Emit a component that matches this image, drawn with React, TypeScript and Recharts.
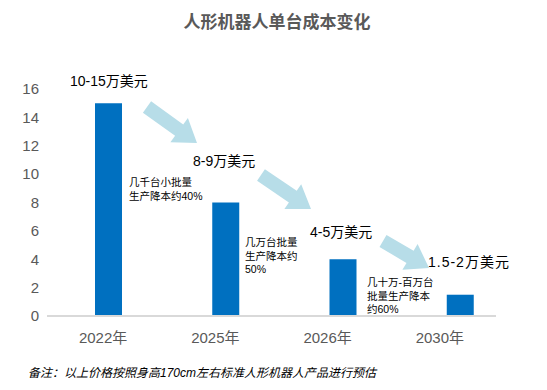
import { Bar, BarChart, XAxis, YAxis } from "recharts"

const years = ["2022年", "2025年", "2026年", "2030年"]
const unitCost = [15, 8, 4, 1.5]
const yTicks = [0, 2, 4, 6, 8, 10, 12, 14, 16]
const priceLabels = ["10-15万美元", "8-9万美元", "4-5万美元", "1.5-2万美元"]
const scaleNotes = [
  ["几千台小批量", "生产降本约40%"],
  ["几万台批量", "生产降本约", "50%"],
  ["几十万-百万台", "批量生产降本", "约60%"],
]
const title = "人形机器人单台成本变化"
const footnote = "备注：以上价格按照身高170cm左右标准人形机器人产品进行预估"

const FONT = "'Liberation Sans', Arial, 'Noto Sans CJK SC', sans-serif"
const GREY = "#595959"

// fat block arrow from start point to tip
function arrowPoints(x1: number, y1: number, x2: number, y2: number) {
  const shaft = 7, head = 15, headLen = 22
  const len = Math.hypot(x2 - x1, y2 - y1)
  const ux = (x2 - x1) / len, uy = (y2 - y1) / len
  const px = -uy, py = ux
  const bx = x2 - ux * headLen, by = y2 - uy * headLen
  const pts = [
    [x1 + px * shaft, y1 + py * shaft],
    [bx + px * shaft, by + py * shaft],
    [bx + px * head, by + py * head],
    [x2, y2],
    [bx - px * head, by - py * head],
    [bx - px * shaft, by - py * shaft],
    [x1 - px * shaft, y1 - py * shaft],
  ]
  return pts.map(p => p.map(v => v.toFixed(1)).join(",")).join(" ")
}

const arrows = [
  [147, 107, 197, 143],
  [261, 175, 311, 209],
  [383, 241, 429, 268],
]
const pricePos = [[70, 86], [193, 166], [310, 237], [428, 267]]
const notePos = [[129, 186], [245, 246], [367, 286]]

export default function App() {
  const data = years.map((y, i) => ({ year: y, cost: unitCost[i] }))

  return (
    <div style={{ position: "absolute", left: 0, top: 0, width: 547, height: 390, background: "#fff", fontFamily: FONT }}>
      <BarChart width={547} height={390} data={data} margin={{ top: 89, right: 28, bottom: 44, left: 0 }}>
        <XAxis xAxisId="bar" dataKey="year" hide height={0} padding={{ left: 3, right: 0 }} />
        <XAxis
          xAxisId="lbl"
          dataKey="year"
          height={30}
          padding={{ left: 0, right: 23 }}
          tickLine={false}
          tickMargin={10}
          axisLine={false}
          tick={{ fill: GREY, fontSize: 15, fontFamily: FONT }}
        />
        <YAxis
          width={47}
          domain={[0, 16]}
          ticks={yTicks}
          axisLine={false}
          tickLine={false}
          tick={{ fill: GREY, fontSize: 15, fontFamily: FONT }}
        />
        <Bar xAxisId="bar" dataKey="cost" fill="#0070C0" barSize={27} isAnimationActive={false} />
      </BarChart>
      <svg width={547} height={390} style={{ position: "absolute", left: 0, top: 0, pointerEvents: "none" }}>
        <line x1={47} x2={496} y1={316} y2={316} stroke="#D9D9D9" strokeWidth={2} />
        <text x={277} y={28} textAnchor="middle" fontSize={17} fontWeight="bold" fill={GREY} fontFamily={FONT}>{title}</text>
        {arrows.map((a, i) => (
          <polygon key={i} points={arrowPoints(a[0], a[1], a[2], a[3])} fill="#B7DDE8" />
        ))}
        {priceLabels.map((t, i) => (
          <text key={i} x={pricePos[i][0]} y={pricePos[i][1]} fontSize={14} fill="#000" fontFamily={FONT}
            letterSpacing={i === 3 ? 1 : 0}>{t}</text>
        ))}
        {scaleNotes.map((lines, i) => (
          <text key={i} fontSize={10.5} fill="#000" fontFamily={FONT}>
            {lines.map((l, j) => (
              <tspan key={j} x={notePos[i][0]} y={notePos[i][1] + j * 13.5}>{l}</tspan>
            ))}
          </text>
        ))}
        <text x={28} y={377} fontSize={12} fontStyle="italic" fill="#000" fontFamily={FONT}>{footnote}</text>
      </svg>
    </div>
  )
}
